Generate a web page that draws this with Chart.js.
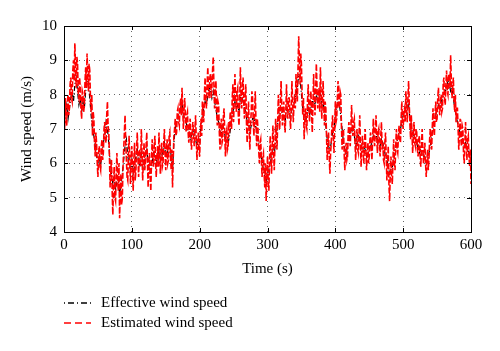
<!DOCTYPE html>
<html>
<head>
<meta charset="utf-8">
<script src="https://cdn.jsdelivr.net/npm/chart.js@4/dist/chart.umd.min.js"></script>
<style>
  html, body { margin: 0; padding: 0; background: #fff; }
  #wrap { width: 500px; height: 351px; }
</style>
</head>
<body>
<div id="wrap"><canvas id="windChart"></canvas></div>
<script>
// sampling (s)
var stepEst = 1;
var stepEff = 2;

var xTicks = [0, 100, 200, 300, 400, 500, 600];
var yTicks = [4, 5, 6, 7, 8, 9, 10];
var seriesNames = ['Effective wind speed', 'Estimated wind speed'];
var seriesColors = ['#000000', '#ff0000'];
var seriesDash = [[5, 2, 1, 2], [6, 2]];

// estimated wind speed, one value per second
var estimated = [
  7.4, 7.0, 7.9, 7.3, 7.1, 7.8, 8.0, 7.4, 7.6, 8.3, 8.5, 7.9, 7.8, 8.7, 9.0, 8.4, 9.5, 8.8, 8.2, 9.1,
  8.9, 8.0, 7.9, 8.5, 8.2, 7.6, 7.3, 8.1, 8.0, 7.5, 7.7, 8.4, 8.8, 8.2, 9.2, 8.6, 8.1, 8.9, 8.7, 7.9,
  7.5, 8.0, 6.8, 7.5, 7.3, 6.6, 6.2, 6.9, 6.6, 6.0, 5.6, 6.3, 6.5, 5.9, 5.8, 6.5, 6.7, 6.1, 6.3, 7.0,
  7.2, 6.7, 6.6, 7.4, 7.8, 7.1, 6.9, 6.2, 5.3, 5.8, 6.1, 5.2, 4.5, 5.4, 5.9, 5.0, 4.9, 5.7, 6.3, 5.5,
  5.2, 6.0, 4.4, 5.3, 5.7, 4.8, 5.0, 5.9, 6.4, 6.9, 7.4, 6.6, 6.1, 5.6, 5.5, 6.3, 6.8, 6.0, 5.4, 6.2,
  6.5, 5.8, 5.2, 6.1, 6.6, 5.5, 5.8, 6.4, 6.9, 6.2, 5.6, 6.3, 6.4, 5.9, 7.0, 6.3, 5.5, 6.1, 6.6, 5.8,
  6.0, 6.5, 6.9, 6.1, 5.3, 6.0, 6.3, 5.6, 5.2, 6.1, 6.7, 6.2, 5.9, 6.5, 6.8, 6.0, 5.6, 6.2, 6.5, 5.9,
  6.9, 6.3, 5.7, 6.4, 6.6, 5.9, 6.0, 6.6, 7.0, 6.3, 5.8, 6.4, 6.7, 6.0, 6.1, 6.8, 6.9, 6.2, 5.8, 6.4,
  5.3, 6.1, 6.8, 7.0, 7.3, 6.8, 6.9, 7.5, 7.6, 7.2, 7.1, 7.7, 7.9, 7.4, 8.2, 7.6, 7.0, 7.6, 7.9, 7.3,
  6.9, 7.4, 7.5, 6.9, 6.6, 7.1, 7.3, 6.7, 6.4, 6.9, 7.2, 6.8, 6.5, 7.0, 7.4, 6.7, 6.1, 6.6, 6.9, 6.4,
  6.2, 6.9, 7.3, 6.8, 7.8, 7.4, 7.2, 8.0, 8.5, 7.8, 7.6, 8.3, 8.8, 8.1, 7.9, 8.5, 8.6, 7.9, 8.2, 8.7,
  9.1, 8.3, 7.6, 8.1, 8.4, 7.5, 7.1, 7.8, 7.7, 6.9, 6.4, 7.1, 7.3, 6.6, 6.7, 7.4, 7.6, 6.8, 6.2, 6.9,
  7.0, 6.4, 6.5, 7.2, 6.9, 7.5, 7.4, 7.0, 7.9, 8.3, 7.2, 7.9, 8.6, 7.8, 7.5, 8.1, 8.2, 7.4, 7.1, 7.8,
  8.8, 8.0, 7.6, 8.2, 8.5, 7.8, 7.3, 7.9, 8.3, 7.2, 6.6, 7.3, 7.8, 7.0, 6.4, 7.1, 7.5, 8.1, 7.9, 7.2,
  6.8, 7.5, 8.1, 7.2, 6.5, 7.3, 7.0, 6.4, 6.0, 6.6, 6.7, 6.1, 5.6, 6.2, 6.3, 5.7, 5.3, 6.0, 4.9, 5.6,
  6.2, 5.5, 5.2, 6.1, 6.8, 6.2, 5.7, 6.5, 7.1, 6.3, 5.8, 6.6, 7.3, 6.8, 6.4, 7.2, 8.0, 7.4, 7.0, 7.7,
  8.4, 7.7, 7.1, 7.6, 7.8, 7.2, 6.9, 7.5, 8.3, 7.6, 7.3, 7.9, 7.9, 7.4, 7.0, 7.6, 8.4, 7.8, 7.2, 7.7,
  8.0, 7.6, 8.6, 8.1, 7.8, 8.8, 9.7, 9.0, 8.3, 9.2, 8.9, 8.0, 7.4, 7.9, 6.7, 7.2, 7.6, 7.1, 7.0, 7.8,
  8.3, 7.6, 7.2, 7.8, 8.1, 7.5, 6.9, 7.7, 8.6, 7.9, 7.4, 8.1, 8.9, 8.2, 7.6, 7.9, 8.2, 7.5, 8.8, 8.1,
  7.3, 7.9, 8.4, 7.6, 7.1, 7.8, 7.6, 6.8, 6.1, 6.6, 6.9, 6.2, 5.7, 6.3, 6.6, 7.1, 7.4, 6.8, 6.3, 7.0,
  7.8, 7.2, 7.3, 7.9, 8.4, 7.7, 7.6, 8.1, 8.0, 7.1, 6.4, 6.9, 7.0, 6.3, 5.8, 6.4, 6.6, 6.1, 6.2, 6.9,
  7.2, 6.7, 6.5, 7.1, 7.7, 7.0, 6.8, 7.2, 7.3, 6.6, 6.1, 6.7, 7.0, 6.4, 6.3, 6.9, 7.4, 6.6, 5.9, 6.5,
  6.8, 6.3, 6.0, 6.6, 7.0, 6.4, 5.8, 6.3, 6.6, 6.0, 6.2, 6.7, 6.9, 6.4, 6.1, 6.7, 7.3, 6.8, 6.5, 7.0,
  7.4, 6.8, 6.3, 6.9, 7.0, 6.5, 6.2, 6.8, 7.2, 6.4, 6.6, 6.1, 6.0, 6.6, 6.9, 6.2, 5.5, 6.0, 6.5, 5.4,
  4.9, 5.7, 6.2, 5.6, 5.4, 6.1, 6.7, 6.0, 5.8, 6.5, 7.0, 6.4, 6.3, 6.8, 7.1, 6.7, 6.6, 7.3, 7.8, 7.2,
  7.0, 7.5, 7.6, 7.2, 8.1, 7.6, 7.2, 7.9, 8.4, 7.7, 7.1, 6.7, 7.4, 6.9, 6.3, 6.8, 7.2, 6.6, 6.5, 7.0,
  6.9, 6.4, 6.2, 6.7, 6.8, 6.2, 5.9, 6.5, 7.0, 6.4, 6.0, 6.3, 6.6, 6.0, 5.6, 6.1, 6.4, 5.8, 6.1, 6.7,
  7.0, 6.6, 6.4, 7.1, 7.6, 7.0, 6.8, 7.4, 7.8, 7.2, 7.3, 7.9, 8.2, 7.6, 7.4, 7.8, 8.0, 7.5, 7.6, 8.3,
  8.5, 7.9, 7.7, 8.3, 8.7, 8.1, 8.0, 8.6, 8.6, 8.2, 9.15, 8.4, 7.9, 8.2, 8.5, 7.8, 7.5, 8.0, 7.2, 7.6,
  7.6, 7.0, 6.4, 6.9, 7.3, 6.7, 6.5, 7.1, 7.0, 6.3, 6.0, 6.6, 7.2, 6.5, 6.1, 6.7, 6.8, 6.2, 5.9, 6.4,
  5.4
];

// effective wind speed, one value every 2 s
var effective = [
  7.2, 7.5, 7.7, 7.3, 7.6, 7.9, 8.1, 7.8, 8.3, 8.5,
  8.1, 7.7, 7.9, 7.5, 7.8, 7.6, 8.1, 8.4, 8.3, 7.9,
  7.4, 7.0, 6.8, 6.5, 6.2, 6.0, 6.2, 5.9, 6.4, 6.6,
  6.8, 7.2, 7.0, 6.6, 6.0, 5.7, 5.4, 5.6, 5.2, 5.5,
  5.6, 5.1, 5.4, 5.7, 6.1, 6.5, 6.7, 6.2, 6.0, 5.8,
  6.1, 5.7, 5.9, 6.2, 6.4, 6.0, 5.9, 6.3, 6.1, 5.9,
  6.3, 6.4, 6.0, 5.8, 5.7, 6.0, 6.3, 6.2, 6.0, 6.2,
  6.4, 6.1, 6.2, 6.4, 6.6, 6.2, 6.3, 6.5, 6.6, 6.2,
  5.8, 6.6, 7.0, 7.2, 7.3, 7.5, 7.6, 7.8, 7.4, 7.3,
  7.2, 7.0, 6.9, 6.7, 6.8, 7.0, 6.9, 6.7, 6.5, 6.6,
  6.6, 7.1, 7.4, 7.6, 7.8, 7.7, 8.0, 8.2, 8.1, 7.9,
  8.1, 7.8, 7.6, 7.3, 7.2, 6.9, 6.9, 7.1, 7.0, 6.7,
  6.7, 6.6, 6.8, 7.1, 7.4, 7.6, 7.8, 7.6, 7.7, 7.5,
  7.9, 8.0, 7.8, 7.6, 7.5, 7.2, 7.2, 6.9, 7.1, 7.3,
  7.3, 7.1, 7.0, 6.7, 6.5, 6.2, 6.1, 5.8, 5.6, 5.4,
  5.7, 5.8, 6.0, 6.2, 6.4, 6.3, 6.6, 7.0, 7.3, 7.5,
  7.6, 7.4, 7.4, 7.2, 7.6, 7.5, 7.5, 7.3, 7.6, 7.7,
  7.8, 8.0, 8.2, 8.6, 8.5, 8.0, 7.6, 7.3, 7.2, 7.4,
  7.6, 7.4, 7.6, 7.8, 7.8, 7.7, 8.0, 7.8, 7.9, 8.0,
  7.7, 7.8, 7.5, 7.1, 6.7, 6.5, 6.4, 6.6, 6.9, 7.0,
  7.4, 7.6, 7.8, 7.7, 7.4, 7.0, 6.6, 6.4, 6.3, 6.5,
  6.8, 6.9, 7.0, 6.9, 6.8, 6.5, 6.6, 6.8, 6.7, 6.4,
  6.4, 6.5, 6.4, 6.2, 6.3, 6.4, 6.5, 6.6, 6.8, 6.7,
  6.8, 6.7, 6.6, 6.5, 6.7, 6.6, 6.4, 6.2, 6.1, 5.9,
  5.7, 5.8, 5.9, 6.1, 6.3, 6.6, 6.7, 6.9, 7.0, 7.2,
  7.4, 7.5, 7.6, 7.8, 7.7, 7.3, 7.0, 6.9, 6.8, 6.7,
  6.6, 6.4, 6.3, 6.4, 6.4, 6.2, 6.2, 6.0, 6.1, 6.3,
  6.5, 6.8, 7.0, 7.2, 7.4, 7.6, 7.7, 7.6, 7.8, 7.9,
  8.0, 8.1, 8.2, 8.4, 8.3, 8.1, 8.2, 7.9, 7.6, 7.4,
  7.2, 7.0, 6.9, 6.8, 6.7, 6.5, 6.6, 6.5, 6.4, 6.2,
  6.0
];

function toPoints(vals, step) {
  return vals.map(function (v, i) { return { x: i * step, y: v }; });
}

var serif = '"Liberation Serif", "Times New Roman", serif';

// box, inward ticks and the legend under the axes
var matlabBox = {
  id: 'matlabBox',
  afterDraw: function (chart) {
    var ctx = chart.ctx, a = chart.chartArea;
    var xs = chart.scales.x, ys = chart.scales.y;
    ctx.save();
    ctx.strokeStyle = '#000';
    ctx.lineWidth = 1;
    ctx.setLineDash([]);
    ctx.strokeRect(Math.round(a.left) + 0.5, Math.round(a.top) + 0.5,
      Math.round(a.right - a.left), Math.round(a.bottom - a.top));
    ctx.beginPath();
    xTicks.forEach(function (t) {
      var px = Math.round(xs.getPixelForValue(t)) + 0.5;
      ctx.moveTo(px, a.bottom); ctx.lineTo(px, a.bottom - 4);
      ctx.moveTo(px, a.top); ctx.lineTo(px, a.top + 4);
    });
    yTicks.forEach(function (t) {
      var py = Math.round(ys.getPixelForValue(t)) + 0.5;
      ctx.moveTo(a.left, py); ctx.lineTo(a.left + 4, py);
      ctx.moveTo(a.right, py); ctx.lineTo(a.right - 4, py);
    });
    ctx.stroke();

    // legend
    var rows = [303, 323];
    ctx.font = '15px ' + serif;
    ctx.textBaseline = 'middle';
    ctx.textAlign = 'left';
    ctx.fillStyle = '#000';
    for (var i = 0; i < 2; i++) {
      ctx.beginPath();
      ctx.strokeStyle = seriesColors[i];
      ctx.lineWidth = 1.5;
      ctx.setLineDash(i === 0 ? [1, 3, 6, 3] : [7, 4]);
      ctx.moveTo(64, rows[i]);
      ctx.lineTo(91, rows[i]);
      ctx.stroke();
      ctx.fillText(seriesNames[i], 101, rows[i]);
    }
    ctx.restore();
  }
};

new Chart(document.getElementById('windChart'), {
  type: 'line',
  data: {
    datasets: [
      {
        label: seriesNames[0],
        data: toPoints(effective, stepEff),
        borderColor: seriesColors[0],
        borderWidth: 1.2,
        borderDash: seriesDash[0],
        pointRadius: 0,
        tension: 0,
        order: 2
      },
      {
        label: seriesNames[1],
        data: toPoints(estimated, stepEst),
        borderColor: seriesColors[1],
        borderWidth: 1.6,
        borderDash: seriesDash[1],
        pointRadius: 0,
        tension: 0,
        order: 1
      }
    ]
  },
  options: {
    responsive: true,
    maintainAspectRatio: false,
    animation: false,
    layout: { padding: { left: 0, right: 29, top: 26, bottom: 69 } },
    plugins: {
      legend: { display: false },
      tooltip: { enabled: false }
    },
    scales: {
      x: {
        type: 'linear',
        min: 0,
        max: 600,
        afterFit: function (s) { s.height = 50; },
        afterBuildTicks: function (s) { s.ticks = xTicks.map(function (v) { return { value: v }; }); },
        ticks: { color: '#000', font: { family: serif, size: 15 }, padding: 4, maxRotation: 0 },
        grid: { color: '#666', drawTicks: false, lineWidth: 1 },
        border: { display: false, dash: [1, 4] },
        title: { display: true, text: 'Time (s)', color: '#000', font: { family: serif, size: 15 }, padding: { top: 4, bottom: 4 } }
      },
      y: {
        min: 4,
        max: 10,
        afterFit: function (s) { s.width = 64; },
        afterBuildTicks: function (s) { s.ticks = yTicks.map(function (v) { return { value: v }; }); },
        ticks: { color: '#000', font: { family: serif, size: 15 }, padding: 7 },
        grid: { color: '#666', drawTicks: false, lineWidth: 1 },
        border: { display: false, dash: [1, 4] },
        title: { display: true, text: 'Wind speed (m/s)', color: '#000', font: { family: serif, size: 15 }, padding: { top: 18, bottom: 4 } }
      }
    }
  },
  plugins: [matlabBox]
});
</script>
</body>
</html>
